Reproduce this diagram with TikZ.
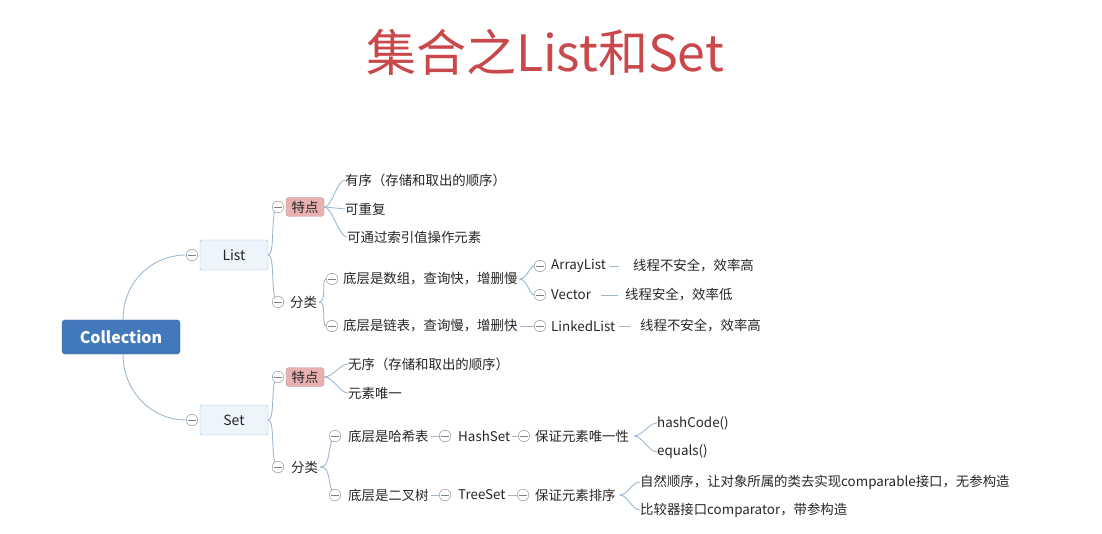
\documentclass[tikz,border=0pt]{standalone}
\usepackage{fontspec}
\setmainfont{Noto Sans CJK SC}
\usepackage{xcolor}
\definecolor{titlered}{HTML}{C9484B}
\definecolor{rootblue}{HTML}{4279BB}
\definecolor{catfill}{HTML}{EDF4FB}
\definecolor{catdraw}{HTML}{A4C0DC}
\definecolor{tagpink}{HTML}{E8B0B0}
\definecolor{linkblue}{HTML}{9DB7D0}
\definecolor{txtgray}{HTML}{262626}
\usetikzlibrary{positioning}
\tikzset{
  titletext/.style={text=titlered, font=\fontsize{50}{54}\selectfont, inner sep=0pt},
  rootbox/.style ={rectangle, rounded corners=3pt, draw=rootblue!85!black, fill=rootblue,
                   text=white, font=\fontsize{16}{18}\selectfont\bfseries,
                   minimum width=118pt, minimum height=34pt, inner sep=0pt},
  catbox/.style  ={rectangle, rounded corners=2pt, draw=catdraw, fill=catfill, text=txtgray,
                   font=\fontsize{14}{16}\selectfont, minimum width=68pt, minimum height=30pt,
                   inner sep=0pt},
  tagbox/.style  ={rectangle, rounded corners=3pt, fill=tagpink, draw=tagpink!85!black,
                   text=txtgray, font=\fontsize{13.4}{15}\selectfont, minimum width=38pt,
                   minimum height=19pt, inner sep=0pt},
  leaf/.style    ={anchor=west, inner sep=0pt, text=txtgray, font=\fontsize{13.4}{15}\selectfont},
  tog/.style     ={circle, draw=black!45, fill=white, minimum size=11.5pt, inner sep=0pt,
                   path picture={\draw[black!50] ([xshift=2pt]path picture bounding box.west)
                     -- ([xshift=-2pt]path picture bounding box.east);}},
  link/.style    ={draw=linkblue, line width=0.9pt},
}

\begin{document}
\begin{tikzpicture}[x=1pt, y=-1pt]
  \useasboundingbox (0,0) rectangle (1102,534);
  \node[titletext] (ttl) at (545,52) {集合之List和Set};

  % root and the two interfaces
  \node[rootbox] (coll) at (121,337) {Collection};
  \node[catbox] (list) at (234,255) {List};
  \node[tog] (tList) at (192,255) {};
  \node[catbox] (set) at (234,420) {Set};
  \node[tog] (tSet) at (192,420) {};
  \draw[link] ([xshift=2pt]coll.north) .. controls +(0,-38) and +(-34,0) .. (tList.west);
  \draw[link] ([xshift=2pt]coll.south) .. controls +(0,38) and +(-34,0) .. (tSet.west);

  % List
  \node[tog] (tLT) at (278,207) {};
  \node[tagbox] (lT) at (305,207) {特点};
  \node[leaf] (lT1) at (345,180) {有序（存储和取出的顺序）};
  \node[leaf] (lT2) at (345,209) {可重复};
  \node[leaf] (lT3) at (347,237) {可通过索引值操作元素};
  \draw[link] (list.east) .. controls +(6,0) and +(-3,12) .. (tLT.235);
  \draw[link] (lT.east) .. controls +(8,0) and +(-8,0) .. (lT1.west);
  \draw[link] (lT.east) -- (lT2.west);
  \draw[link] (lT.east) .. controls +(8,0) and +(-8,0) .. (lT3.west);

  \node[tog] (tLF) at (278,302) {};
  \node[leaf] (lF) at (290,302) {分类};
  \draw[link] (list.east) .. controls +(6,0) and +(-3,-12) .. (tLF.125);
  \node[tog] (tLA) at (332,279) {};
  \node[leaf] (lA) at (343,279) {底层是数组，查询快，增删慢};
  \node[tog] (tLB) at (332,326) {};
  \node[leaf] (lB) at (343,326) {底层是链表，查询慢，增删快};
  \draw[link] ([xshift=2pt]lF.east) .. controls +(8,0) and +(-5,0) .. (tLA.west);
  \draw[link] ([xshift=2pt]lF.east) .. controls +(8,0) and +(-5,0) .. (tLB.west);

  \node[tog] (tAL) at (540,266) {};
  \node[leaf] (al) at (551,266) {ArrayList};
  \node[leaf] (ald) at (633,266) {线程不安全，效率高};
  \node[tog] (tV) at (540,295) {};
  \node[leaf] (vec) at (551,295) {Vector};
  \node[leaf] (vecd) at (625,295) {线程安全，效率低};
  \node[tog] (tLL) at (540,326) {};
  \node[leaf] (ll) at (551,326) {LinkedList};
  \node[leaf] (lld) at (640,326) {线程不安全，效率高};
  \draw[link] ([xshift=2pt]lA.east) .. controls +(7,0) and +(-4,0) .. (tAL.west);
  \draw[link] ([xshift=2pt]lA.east) .. controls +(7,0) and +(-4,0) .. (tV.west);
  \draw[link] ([xshift=2pt]lB.east) -- (tLL.west);
  \draw[link, shorten <=4pt, shorten >=14pt] (al.east) -- (ald.west);
  \draw[link, shorten <=10pt, shorten >=7pt] (vec.east) -- (vecd.west);
  \draw[link, shorten <=4pt, shorten >=10pt] (ll.east) -- (lld.west);

  % Set
  \node[tog] (tST) at (278,377) {};
  \node[tagbox] (sT) at (305,377) {特点};
  \node[leaf] (sT1) at (348,364) {无序（存储和取出的顺序）};
  \node[leaf] (sT2) at (348,393) {元素唯一};
  \draw[link] (set.east) .. controls +(6,0) and +(-3,12) .. (tST.235);
  \draw[link] (sT.east) .. controls +(9,0) and +(-8,0) .. (sT1.west);
  \draw[link] (sT.east) .. controls +(9,0) and +(-8,0) .. (sT2.west);

  \node[tog] (tSF) at (278,467) {};
  \node[leaf] (sF) at (291,467) {分类};
  \draw[link] (set.east) .. controls +(6,0) and +(-3,-14) .. (tSF.125);
  \node[tog] (tSA) at (335,436) {};
  \node[leaf] (sA) at (348,436) {底层是哈希表};
  \node[tog] (tSB) at (335,495) {};
  \node[leaf] (sB) at (348,495) {底层是二叉树};
  \draw[link] ([xshift=2pt]sF.east) .. controls +(9,0) and +(-4,14) .. (tSA.235);
  \draw[link] ([xshift=2pt]sF.east) .. controls +(9,0) and +(-4,-14) .. (tSB.125);

  \node[tog] (tHS) at (445,436) {};
  \node[leaf] (hs) at (458,436) {HashSet};
  \node[tog] (tHU) at (524,436) {};
  \node[leaf] (hu) at (535,436) {保证元素唯一性};
  \node[leaf] (hc) at (657,423) {hashCode()};
  \node[leaf] (eq) at (657,452) {equals()};
  \draw[link] ([xshift=2pt]sA.east) -- (tHS.west);
  \draw[link] ([xshift=2pt]hs.east) -- (tHU.west);
  \draw[link] ([xshift=5pt]hu.east) .. controls +(8,0) and +(-8,0) .. (hc.west);
  \draw[link] ([xshift=5pt]hu.east) .. controls +(8,0) and +(-8,0) .. (eq.west);

  \node[tog] (tTS) at (445,495) {};
  \node[leaf] (ts) at (458,495) {TreeSet};
  \node[tog] (tTO) at (523,495) {};
  \node[leaf] (tso) at (535,495) {保证元素排序};
  \node[leaf] (nat) at (640,482) {自然顺序，让对象所属的类去实现comparable接口，无参构造};
  \node[leaf] (cmp) at (640,510) {比较器接口comparator，带参构造};
  \draw[link] ([xshift=2pt]sB.east) -- (tTS.west);
  \draw[link] ([xshift=2pt]ts.east) -- (tTO.west);
  \draw[link] ([xshift=4pt]tso.east) .. controls +(8,0) and +(-8,0) .. (nat.west);
  \draw[link] ([xshift=4pt]tso.east) .. controls +(8,0) and +(-8,0) .. (cmp.west);
\end{tikzpicture}
\end{document}
